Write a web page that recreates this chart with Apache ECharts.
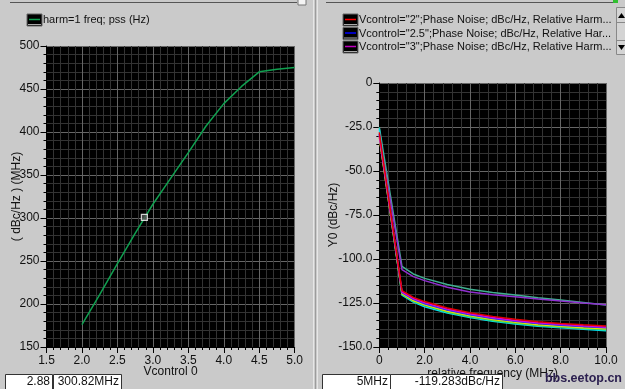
<!DOCTYPE html>
<html><head><meta charset="utf-8">
<script src="https://cdn.jsdelivr.net/npm/echarts@6/dist/echarts.min.js"></script>
<style>html,body{margin:0;padding:0;background:#cacaca;overflow:hidden}#c{width:625px;height:389px}</style>
</head><body><div id="c"></div>
<script>
// ---- Left plot data: harm=1 freq; pss (MHz) vs Vcontrol
const vctrl = [2.0, 2.25, 2.5, 2.75, 3.0, 3.25, 3.5, 3.75, 4.0, 4.25, 4.5, 4.75, 5.0];
const freqMHz = [176, 211, 247, 282, 316, 346, 376, 407, 433, 453, 470, 473, 475];
const markerPoint = [2.88, 300.82];

// ---- Right plot data: phase noise (dBc/Hz) vs relative frequency (MHz)
const relFreq = [0, 1, 1.5, 2, 3, 4, 5, 6, 7, 8, 9, 10];
const pnRed     = [-28, -118.0, -121.8, -124.2, -127.8, -130.5, -132.6, -134.3, -135.6, -136.6, -137.4, -138.1];
const pnMagenta = [-30, -118.6, -122.4, -124.8, -128.4, -131.1, -133.2, -134.9, -136.2, -137.1, -137.9, -138.6];
const pnBlue    = [-29, -119.1, -122.9, -125.4, -129.0, -131.7, -133.8, -135.4, -136.7, -137.6, -138.4, -139.1];
const pnYellow  = [-31, -119.7, -123.6, -126.0, -129.7, -132.3, -134.4, -136.0, -137.3, -138.2, -139.0, -139.7];
const pnGreen   = [-30.5, -120.1, -124.0, -126.5, -130.2, -132.8, -134.9, -136.5, -137.8, -138.7, -139.5, -140.2];
const pnCyan    = [-26, -120.5, -124.5, -127.1, -130.7, -133.3, -135.4, -136.9, -138.2, -139.1, -139.9, -140.7];
const pnPurple  = [-29, -106.0, -110.0, -112.3, -116.0, -118.8, -120.3, -121.4, -122.7, -123.9, -125.0, -126.0];
const pnTeal    = [-25, -104.2, -108.5, -111.0, -114.5, -117.2, -119.0, -120.5, -122.0, -123.3, -124.7, -126.1];

const legendLeft = ['harm=1 freq; pss (Hz)'];
const legendRight = ['Vcontrol="2";Phase Noise; dBc/Hz, Relative Harm...',
                     'Vcontrol="2.5";Phase Noise; dBc/Hz, Relative Har...',
                     'Vcontrol="3";Phase Noise; dBc/Hz, Relative Harm...'];
const legendRightColors = ['#ff0000', '#0000ff', '#c000c0'];
const readoutLeft = ['2.88', '300.82MHz'];
const readoutRight = ['5MHz', '-119.283dBc/Hz'];

const FONT = 'Liberation Sans';
const txt = '#111';
function zip(xs, ys){ return xs.map((x,i)=>[x, ys[i]]); }

function axisCommon(){
  return {
    type:'value',
    axisLine:{show:true, onZero:false, lineStyle:{color:'#000', width:1}},
    axisTick:{show:true, length:6, lineStyle:{color:'#000'}},
    minorTick:{show:true, splitNumber:5, length:3, lineStyle:{color:'#000'}},
    splitLine:{show:true, lineStyle:{color:'#666', width:1}},
    minorSplitLine:{show:true, lineStyle:{color:'#333', width:1}},
    axisLabel:{color:txt, fontSize:12, fontFamily:FONT, margin:7},
    nameTextStyle:{color:txt, fontSize:12, fontFamily:FONT},
    nameLocation:'middle',
    nameMoveOverlap:false
  };
}

const chart = echarts.init(document.getElementById('c'), null, {renderer:'canvas'});

const rightSeries = [
  ['teal', pnTeal, '#40b090'],
  ['purple', pnPurple, '#9030d0'],
  ['cyan', pnCyan, '#00e0f0'],
  ['green', pnGreen, '#30d060'],
  ['yellow', pnYellow, '#e8e000'],
  ['blue', pnBlue, '#3030ff'],
  ['magenta', pnMagenta, '#e000e0'],
  ['red', pnRed, '#e00000']
].map(([n, d, c]) => ({
  name:n, type:'line', xAxisIndex:1, yAxisIndex:1, data:zip(relFreq, d),
  showSymbol:false, symbol:'none', lineStyle:{color:c, width:1.5}, itemStyle:{color:c}, z:3
}));

const graphics = [];
// top frame lines
graphics.push({type:'line', shape:{x1:10,y1:2.5,x2:297,y2:2.5}, style:{stroke:'#555', lineWidth:1}});
graphics.push({type:'rect', shape:{x:298,y:-1,width:8,height:6}, style:{fill:'#f4f4f4', stroke:'#777', lineWidth:1}});
graphics.push({type:'line', shape:{x1:326,y1:2.5,x2:613,y2:2.5}, style:{stroke:'#555', lineWidth:1}});
graphics.push({type:'rect', shape:{x:613,y:-1,width:5,height:4}, style:{fill:'#30c030'}});
// divider between panels
graphics.push({type:'line', shape:{x1:313.5,y1:0,x2:313.5,y2:389}, style:{stroke:'#e6e6e6', lineWidth:1}});
graphics.push({type:'line', shape:{x1:315.5,y1:0,x2:315.5,y2:389}, style:{stroke:'#9c9c9c', lineWidth:1}});
graphics.push({type:'line', shape:{x1:317.5,y1:0,x2:317.5,y2:389}, style:{stroke:'#e6e6e6', lineWidth:1}});

function swatch(x, y, color){
  graphics.push({type:'rect', shape:{x:x, y:y, width:15, height:12}, style:{fill:'#000', stroke:'#666', lineWidth:1}});
  graphics.push({type:'line', shape:{x1:x+2, y1:y+5.5, x2:x+13, y2:y+5.5}, style:{stroke:color, lineWidth:1.5}});
  graphics.push({type:'line', shape:{x1:x+1, y1:y+10.5, x2:x+14, y2:y+10.5}, style:{stroke:'#aaa', lineWidth:1}});
}
swatch(27, 14, '#10a050');
graphics.push({type:'text', x:43, y:20, style:{text:legendLeft[0], fill:txt, font:'11px '+FONT, verticalAlign:'middle'}});
legendRight.forEach((t,i)=>{
  const y = 14 + i*13.5;
  swatch(343, y, legendRightColors[i]);
  graphics.push({type:'text', x:359, y:y+6, style:{text:t, fill:txt, font:'11px '+FONT, verticalAlign:'middle'}});
});
// scroll bar
graphics.push({type:'rect', shape:{x:616.5,y:7.5,width:10,height:47}, style:{fill:'#d4d4d4', stroke:'#888', lineWidth:1}});
graphics.push({type:'line', shape:{x1:616.5,y1:22.5,x2:626,y2:22.5}, style:{stroke:'#888', lineWidth:1}});
graphics.push({type:'line', shape:{x1:616.5,y1:40.5,x2:626,y2:40.5}, style:{stroke:'#888', lineWidth:1}});
graphics.push({type:'polygon', shape:{points:[[618,18],[625,18],[621.5,13]]}, style:{fill:'#000'}});
graphics.push({type:'polygon', shape:{points:[[618,45],[625,45],[621.5,50]]}, style:{fill:'#000'}});
// readout boxes
function box(x, w, t){
  graphics.push({type:'rect', z:10, shape:{x:x+0.5, y:374.5, width:w, height:16}, style:{fill:'#fff', stroke:'#333', lineWidth:1}});
  graphics.push({type:'text', z:11, x:x+w-2, y:382, style:{text:t, fill:txt, font:'12px '+FONT, align:'right', verticalAlign:'middle'}});
}
box(5, 47, readoutLeft[0]);
box(53, 68, readoutLeft[1]);
box(322, 68, readoutRight[0]);
box(390, 112, readoutRight[1]);
graphics.push({type:'text', z:11, x:622, y:379, style:{text:'bbs.eetop.cn', fill:'#2c2050', font:'bold 12.5px '+FONT, align:'right', verticalAlign:'middle'}});

const opt = {
  animation:false,
  backgroundColor:'#cacaca',
  grid:[
    {left:46.5, top:46, width:248.2, height:301, show:true, backgroundColor:'#000', borderWidth:0},
    {left:379.3, top:83, width:226.7, height:264, show:true, backgroundColor:'#000', borderWidth:0}
  ],
  xAxis:[
    Object.assign(axisCommon(), {gridIndex:0, min:1.5, max:5, interval:0.5, name:'Vcontrol 0', nameGap:19,
      axisLabel:Object.assign(axisCommon().axisLabel, {formatter:v=>v.toFixed(1), margin:8})}),
    Object.assign(axisCommon(), {gridIndex:1, min:0, max:10, interval:2, name:'relative frequency (MHz)', nameGap:21,
      axisLabel:Object.assign(axisCommon().axisLabel, {formatter:v=>v===0?'0':v.toFixed(1), margin:8})})
  ],
  yAxis:[
    Object.assign(axisCommon(), {gridIndex:0, min:150, max:500, interval:50, name:'( dBc/Hz ) (MHz)', nameGap:23.5, nameRotate:90,
      axisLabel:Object.assign(axisCommon().axisLabel, {margin:7})}),
    Object.assign(axisCommon(), {gridIndex:1, min:-150, max:0, interval:25, name:'Y0 (dBc/Hz)', nameGap:40, nameRotate:90,
      axisLabel:Object.assign(axisCommon().axisLabel, {formatter:v=>v===0?'0':v.toFixed(1), margin:7})})
  ],
  series:[
    {name:'freq', type:'line', xAxisIndex:0, yAxisIndex:0, data:zip(vctrl, freqMHz), showSymbol:false, symbol:'none',
      lineStyle:{color:'#10a050', width:1.5}, z:3},
    {name:'marker', type:'scatter', xAxisIndex:0, yAxisIndex:0, data:[markerPoint], symbol:'rect', symbolSize:6,
      itemStyle:{color:'#555', borderColor:'#fff', borderWidth:1.2}, z:5}
  ].concat(rightSeries),
  graphic:graphics
};
chart.setOption(opt);
</script></body></html>
